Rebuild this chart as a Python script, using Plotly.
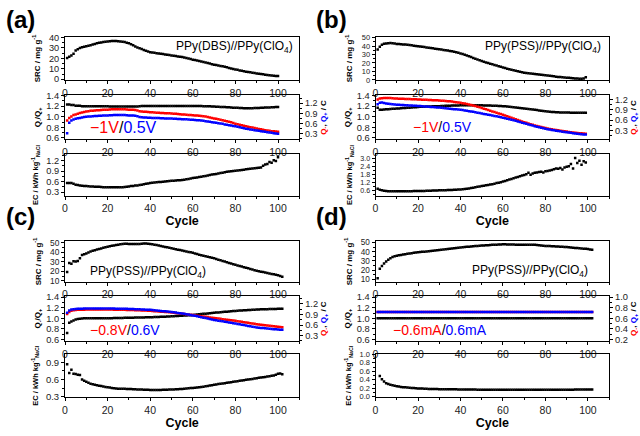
import plotly.graph_objects as go

FONT = "Liberation Sans, Arial, Helvetica, sans-serif"
W, H = 640, 436
RED = "#ff0000"
BLUE = "#0000ff"

# ================= panel (a): PPy(DBS)//PPy(ClO4), -1V/0.5V =================
cycles_a = list(range(1, 101))
src_a = [20.3, 21.5, 22.8, 24.5, 27.5, 28.8, 30.0, 30.6, 31.1, 31.6,
         32.1, 32.6, 33.2, 33.8, 34.4, 34.9, 35.3, 35.7, 36.0, 36.3,
         36.5, 36.6, 36.6, 36.6, 36.5, 36.3, 36.0, 35.6, 35.0, 34.4,
         33.5, 32.5, 31.5, 30.5, 29.7, 28.9, 28.1, 27.3, 26.6, 26.0,
         25.6, 25.3, 25.0, 24.7, 24.4, 24.1, 23.8, 23.5, 23.2, 22.8,
         22.5, 22.2, 21.9, 21.6, 21.3, 20.8, 20.3, 19.8, 19.3, 18.8,
         18.4, 18.0, 17.5, 17.1, 16.6, 16.1, 15.6, 15.0, 14.5, 14.0,
         13.6, 13.2, 12.8, 12.4, 11.9, 11.4, 10.9, 10.4, 9.9, 9.4,
         9.0, 8.5, 8.1, 7.6, 7.2, 6.9, 6.6, 6.2, 5.9, 5.6,
         5.3, 5.0, 4.7, 4.3, 4.0, 3.8, 3.6, 3.4, 3.2, 3.1]
ratio_a = [1.23, 1.23, 1.22, 1.22, 1.21, 1.21, 1.21, 1.20, 1.20, 1.20,
           1.20, 1.20, 1.20, 1.20, 1.20, 1.20, 1.20, 1.20, 1.20, 1.20,
           1.195, 1.195, 1.195, 1.195, 1.195, 1.195, 1.195, 1.195, 1.195, 1.195,
           1.195, 1.195, 1.195, 1.195, 1.20, 1.205, 1.205, 1.205, 1.205, 1.205,
           1.205, 1.205, 1.205, 1.205, 1.205, 1.205, 1.205, 1.205, 1.205, 1.205,
           1.205, 1.205, 1.205, 1.205, 1.205, 1.205, 1.205, 1.205, 1.205, 1.205,
           1.205, 1.204, 1.203, 1.202, 1.20, 1.199, 1.198, 1.196, 1.194, 1.192,
           1.19, 1.188, 1.186, 1.184, 1.182, 1.18, 1.178, 1.175, 1.172, 1.17,
           1.168, 1.166, 1.164, 1.162, 1.16, 1.16, 1.16, 1.162, 1.163, 1.165,
           1.167, 1.169, 1.171, 1.173, 1.175, 1.177, 1.179, 1.181, 1.183, 1.185]
qminus_a = [0.69, 0.76, 0.81, 0.85, 0.87, 0.89, 0.91, 0.925, 0.94, 0.955,
            0.965, 0.975, 0.98, 0.985, 0.99, 0.995, 1.0, 1.005, 1.01, 1.01,
            1.015, 1.02, 1.02, 1.02, 1.025, 1.025, 1.02, 1.02, 1.015, 1.01,
            1.01, 1.005, 1.0, 0.985, 0.96, 0.955, 0.95, 0.945, 0.94, 0.935,
            0.93, 0.925, 0.92, 0.915, 0.91, 0.91, 0.905, 0.90, 0.90, 0.895,
            0.89, 0.885, 0.88, 0.875, 0.87, 0.865, 0.86, 0.855, 0.85, 0.845,
            0.84, 0.835, 0.83, 0.825, 0.815, 0.805, 0.795, 0.78, 0.765, 0.75,
            0.74, 0.725, 0.71, 0.695, 0.68, 0.665, 0.65, 0.635, 0.615, 0.595,
            0.58, 0.565, 0.55, 0.535, 0.52, 0.505, 0.49, 0.48, 0.465, 0.45,
            0.44, 0.43, 0.415, 0.405, 0.395, 0.385, 0.375, 0.37, 0.365, 0.36]
qplus_a = [0.31, 0.62, 0.69, 0.72, 0.74, 0.755, 0.765, 0.78, 0.79, 0.80,
           0.805, 0.81, 0.815, 0.82, 0.825, 0.83, 0.83, 0.835, 0.84, 0.84,
           0.845, 0.845, 0.85, 0.85, 0.852, 0.852, 0.85, 0.85, 0.845, 0.84,
           0.84, 0.835, 0.83, 0.815, 0.79, 0.785, 0.78, 0.775, 0.77, 0.77,
           0.765, 0.765, 0.76, 0.76, 0.755, 0.755, 0.75, 0.75, 0.745, 0.745,
           0.74, 0.74, 0.735, 0.735, 0.73, 0.73, 0.725, 0.72, 0.715, 0.71,
           0.705, 0.70, 0.695, 0.69, 0.68, 0.67, 0.66, 0.65, 0.64, 0.63,
           0.62, 0.61, 0.60, 0.59, 0.575, 0.565, 0.55, 0.54, 0.53, 0.52,
           0.505, 0.49, 0.475, 0.46, 0.445, 0.435, 0.425, 0.415, 0.405, 0.395,
           0.385, 0.375, 0.365, 0.355, 0.345, 0.335, 0.325, 0.315, 0.305, 0.295]
ec_a = [0.56, 0.56, 0.56, 0.54, 0.51, 0.50, 0.49, 0.48, 0.475, 0.47,
        0.465, 0.46, 0.46, 0.455, 0.455, 0.45, 0.445, 0.44, 0.44, 0.435,
        0.435, 0.435, 0.435, 0.435, 0.435, 0.44, 0.44, 0.445, 0.45, 0.46,
        0.47, 0.475, 0.485, 0.49, 0.50, 0.51, 0.52, 0.535, 0.545, 0.56,
        0.565, 0.57, 0.58, 0.585, 0.59, 0.595, 0.60, 0.61, 0.615, 0.62,
        0.625, 0.63, 0.635, 0.64, 0.645, 0.655, 0.665, 0.675, 0.69, 0.70,
        0.71, 0.72, 0.73, 0.74, 0.75, 0.76, 0.775, 0.785, 0.80, 0.81,
        0.82, 0.83, 0.845, 0.855, 0.87, 0.88, 0.885, 0.895, 0.90, 0.91,
        0.92, 0.925, 0.935, 0.94, 0.95, 0.96, 0.97, 0.975, 0.985, 0.99,
        0.995, 1.00, 1.05, 1.09, 1.10, 1.16, 1.14, 1.21, 1.19, 1.30]

# ================= panel (b): PPy(PSS)//PPy(ClO4), -1V/0.5V =================
cycles_b = list(range(1, 100))
src_b = [35.8, 39.2, 41.5, 42.6, 43.1, 43.4, 43.5, 43.3, 42.9, 42.5,
         42.3, 42.1, 41.9, 41.7, 41.5, 41.1, 40.8, 40.4, 40.0, 39.6,
         39.3, 39.0, 38.7, 38.3, 38.0, 37.6, 37.3, 36.9, 36.5, 36.2,
         35.8, 35.4, 35.0, 34.6, 34.2, 33.7, 33.2, 32.6, 32.0, 31.3,
         30.5, 29.6, 28.7, 27.8, 26.9, 26.0, 25.1, 24.1, 23.2, 22.3,
         21.5, 20.7, 20.0, 19.2, 18.5, 17.7, 16.9, 16.2, 15.4, 14.6,
         14.0, 13.3, 12.7, 12.1, 11.5, 10.9, 10.3, 9.7, 9.1, 8.5,
         8.2, 7.9, 7.5, 7.2, 6.9, 6.6, 6.3, 6.0, 5.7, 5.4,
         5.1, 4.8, 4.5, 4.2, 3.8, 3.6, 3.4, 3.2, 2.9, 2.7,
         2.5, 2.3, 2.0, 1.8, 1.6, 1.5, 1.5, 1.6, 3.3]
ratio_b = [1.17, 1.13, 1.13, 1.135, 1.14, 1.14, 1.145, 1.15, 1.15, 1.155,
           1.158, 1.16, 1.163, 1.166, 1.17, 1.172, 1.175, 1.178, 1.18, 1.185,
           1.187, 1.19, 1.19, 1.192, 1.194, 1.195, 1.197, 1.198, 1.2, 1.2,
           1.202, 1.204, 1.206, 1.208, 1.21, 1.211, 1.212, 1.213, 1.214, 1.215,
           1.215, 1.215, 1.215, 1.215, 1.215, 1.215, 1.215, 1.215, 1.215, 1.215,
           1.214, 1.213, 1.212, 1.211, 1.21, 1.208, 1.206, 1.204, 1.202, 1.2,
           1.197, 1.194, 1.19, 1.185, 1.18, 1.175, 1.17, 1.165, 1.16, 1.155,
           1.15, 1.145, 1.14, 1.135, 1.13, 1.125, 1.12, 1.115, 1.11, 1.105,
           1.1, 1.095, 1.09, 1.088, 1.085, 1.083, 1.082, 1.081, 1.08, 1.08,
           1.078, 1.077, 1.076, 1.075, 1.075, 1.074, 1.074, 1.074, 1.074]
qminus_b = [1.195, 1.22, 1.23, 1.235, 1.24, 1.24, 1.235, 1.23, 1.225, 1.22,
            1.218, 1.215, 1.212, 1.21, 1.208, 1.205, 1.203, 1.2, 1.198, 1.195,
            1.192, 1.189, 1.186, 1.183, 1.18, 1.178, 1.175, 1.172, 1.169, 1.166,
            1.161, 1.156, 1.151, 1.146, 1.14, 1.133, 1.125, 1.117, 1.109, 1.10,
            1.088, 1.076, 1.063, 1.05, 1.037, 1.02, 1.003, 0.985, 0.968, 0.95,
            0.93, 0.91, 0.89, 0.87, 0.85, 0.831, 0.812, 0.793, 0.774, 0.755,
            0.734, 0.713, 0.692, 0.671, 0.65, 0.628, 0.606, 0.584, 0.562, 0.54,
            0.521, 0.503, 0.484, 0.466, 0.447, 0.432, 0.416, 0.401, 0.385, 0.37,
            0.359, 0.348, 0.337, 0.326, 0.315, 0.306, 0.297, 0.288, 0.279, 0.27,
            0.262, 0.254, 0.246, 0.238, 0.23, 0.225, 0.22, 0.215, 0.21]
qplus_b = [1.054, 1.10, 1.11, 1.095, 1.08, 1.073, 1.066, 1.059, 1.052, 1.045,
           1.041, 1.038, 1.034, 1.031, 1.027, 1.024, 1.02, 1.017, 1.013, 1.01,
           1.005, 1.0, 0.995, 0.99, 0.985, 0.98, 0.975, 0.97, 0.965, 0.96,
           0.954, 0.947, 0.941, 0.935, 0.929, 0.922, 0.916, 0.91, 0.903, 0.897,
           0.888, 0.878, 0.869, 0.859, 0.85, 0.838, 0.826, 0.814, 0.802, 0.79,
           0.779, 0.768, 0.757, 0.746, 0.735, 0.722, 0.709, 0.696, 0.683, 0.67,
           0.655, 0.64, 0.626, 0.611, 0.596, 0.579, 0.562, 0.544, 0.527, 0.51,
           0.493, 0.477, 0.46, 0.444, 0.427, 0.412, 0.396, 0.381, 0.365, 0.35,
           0.339, 0.328, 0.318, 0.307, 0.296, 0.287, 0.278, 0.268, 0.259, 0.25,
           0.242, 0.234, 0.226, 0.218, 0.21, 0.203, 0.197, 0.19, 0.183]
ec_b = [0.72, 0.65, 0.60, 0.57, 0.55, 0.54, 0.535, 0.53, 0.53, 0.53,
        0.53, 0.53, 0.535, 0.535, 0.54, 0.54, 0.54, 0.545, 0.545, 0.55,
        0.55, 0.555, 0.56, 0.565, 0.57, 0.575, 0.58, 0.585, 0.59, 0.60,
        0.605, 0.61, 0.615, 0.62, 0.63, 0.635, 0.64, 0.65, 0.66, 0.67,
        0.68, 0.70, 0.72, 0.745, 0.77, 0.80, 0.83, 0.86, 0.89, 0.92,
        0.95, 0.975, 1.0, 1.03, 1.06, 1.1, 1.14, 1.17, 1.21, 1.25,
        1.30, 1.35, 1.40, 1.45, 1.50, 1.55, 1.60, 1.65, 1.70, 1.74,
        1.80, 1.91, 1.77, 1.85, 1.91, 1.93, 1.96, 1.98, 1.92, 2.03,
        2.05, 2.08, 2.12, 2.17, 2.23, 2.20, 2.26, 2.15, 2.30, 2.35,
        2.40, 2.56, 2.23, 3.0, 2.64, 2.81, 2.50, 2.76, 2.68]

# ================= panel (c): PPy(PSS)//PPy(ClO4), -0.8V/0.6V =================
cycles_c = list(range(1, 103))
src_c = [19.2, 28.8, 27.8, 30.5, 30.2, 30.9, 33.6, 37.0, 38.0, 38.7,
         39.8, 40.8, 41.5, 42.2, 42.8, 43.4, 44.0, 44.6, 45.3, 45.9,
         46.3, 46.7, 47.1, 47.5, 47.9, 48.3, 48.7, 49.0, 48.8, 48.6,
         48.6, 48.6, 48.6, 48.6, 48.6, 48.9, 49.1, 49.3, 49.0, 48.6,
         48.3, 47.9, 47.5, 47.1, 46.6, 46.1, 45.6, 45.2, 44.7, 44.2,
         43.7, 43.2, 42.7, 42.3, 41.8, 41.3, 40.8, 40.3, 39.9, 39.4,
         38.8, 38.2, 37.5, 36.9, 36.3, 35.8, 35.2, 34.7, 34.1, 33.6,
         32.9, 32.2, 31.6, 30.9, 30.2, 29.5, 28.8, 28.2, 27.5, 26.8,
         26.2, 25.6, 25.0, 24.3, 23.7, 23.1, 22.5, 21.8, 21.2, 20.6,
         20.1, 19.6, 19.2, 18.7, 18.2, 17.7, 17.2, 16.8, 16.3, 15.8,
         15.1, 14.4]
ratio_c = [0.72, 0.915, 0.94, 0.96, 0.975, 0.985, 0.99, 0.995, 1.0, 1.0,
           1.0, 1.0, 1.0, 1.0, 1.0, 1.0, 1.0, 1.0, 1.0, 1.0,
           1.002, 1.003, 1.004, 1.005, 1.006, 1.007, 1.008, 1.009, 1.01, 1.01,
           1.011, 1.012, 1.013, 1.014, 1.015, 1.016, 1.017, 1.018, 1.019, 1.02,
           1.021, 1.023, 1.025, 1.027, 1.028, 1.03, 1.031, 1.033, 1.035, 1.037,
           1.039, 1.042, 1.044, 1.047, 1.05, 1.052, 1.055, 1.058, 1.06, 1.063,
           1.067, 1.071, 1.075, 1.08, 1.084, 1.088, 1.092, 1.096, 1.10, 1.105,
           1.109, 1.112, 1.116, 1.119, 1.123, 1.126, 1.13, 1.133, 1.137, 1.14,
           1.143, 1.146, 1.149, 1.151, 1.154, 1.157, 1.159, 1.162, 1.164, 1.167,
           1.168, 1.17, 1.171, 1.172, 1.173, 1.175, 1.176, 1.177, 1.178, 1.18,
           1.18, 1.18]
qminus_c = [0.913, 0.97, 1.01, 1.02, 1.03, 1.033, 1.035, 1.037, 1.039, 1.04,
            1.04, 1.04, 1.04, 1.04, 1.04, 1.04, 1.04, 1.04, 1.04, 1.04,
            1.04, 1.04, 1.039, 1.038, 1.037, 1.036, 1.035, 1.033, 1.032, 1.03,
            1.028, 1.026, 1.024, 1.022, 1.02, 1.017, 1.014, 1.011, 1.008, 1.005,
            1.0, 0.996, 0.991, 0.986, 0.982, 0.977, 0.972, 0.968, 0.963, 0.958,
            0.951, 0.943, 0.935, 0.928, 0.92, 0.913, 0.906, 0.899, 0.892, 0.885,
            0.877, 0.868, 0.86, 0.851, 0.843, 0.834, 0.826, 0.817, 0.809, 0.80,
            0.792, 0.784, 0.776, 0.768, 0.76, 0.752, 0.744, 0.736, 0.728, 0.72,
            0.71, 0.701, 0.691, 0.682, 0.672, 0.663, 0.653, 0.644, 0.634, 0.625,
            0.617, 0.61, 0.602, 0.595, 0.587, 0.58, 0.572, 0.565, 0.557, 0.55,
            0.545, 0.54]
qplus_c = [0.95, 1.013, 1.04, 1.052, 1.06, 1.063, 1.065, 1.067, 1.068, 1.07,
           1.07, 1.07, 1.07, 1.07, 1.07, 1.07, 1.07, 1.07, 1.07, 1.07,
           1.069, 1.069, 1.068, 1.067, 1.066, 1.065, 1.064, 1.063, 1.062, 1.06,
           1.058, 1.055, 1.053, 1.05, 1.048, 1.045, 1.042, 1.039, 1.036, 1.033,
           1.027, 1.021, 1.015, 1.009, 1.003, 0.996, 0.99, 0.983, 0.977, 0.97,
           0.962, 0.954, 0.946, 0.938, 0.93, 0.919, 0.908, 0.897, 0.886, 0.875,
           0.862, 0.849, 0.836, 0.823, 0.81, 0.797, 0.784, 0.771, 0.758, 0.745,
           0.735, 0.725, 0.715, 0.705, 0.694, 0.684, 0.674, 0.664, 0.653, 0.643,
           0.632, 0.62, 0.609, 0.598, 0.587, 0.575, 0.564, 0.553, 0.541, 0.53,
           0.524, 0.518, 0.512, 0.506, 0.5, 0.494, 0.488, 0.482, 0.476, 0.47,
           0.468, 0.465]
ec_c = [0.866, 0.713, 0.77, 0.70, 0.695, 0.685, 0.68, 0.60, 0.58, 0.56,
        0.543, 0.526, 0.516, 0.507, 0.498, 0.491, 0.485, 0.478, 0.471, 0.464,
        0.459, 0.454, 0.449, 0.445, 0.44, 0.439, 0.438, 0.437, 0.436, 0.435,
        0.433, 0.431, 0.429, 0.427, 0.425, 0.424, 0.423, 0.421, 0.42, 0.419,
        0.419, 0.419, 0.419, 0.419, 0.419, 0.42, 0.421, 0.422, 0.424, 0.425,
        0.428, 0.43, 0.432, 0.434, 0.436, 0.44, 0.443, 0.446, 0.45, 0.453,
        0.457, 0.462, 0.466, 0.471, 0.475, 0.482, 0.489, 0.496, 0.502, 0.509,
        0.515, 0.52, 0.526, 0.531, 0.537, 0.543, 0.549, 0.554, 0.56, 0.566,
        0.571, 0.577, 0.583, 0.588, 0.594, 0.6, 0.606, 0.611, 0.617, 0.623,
        0.629, 0.634, 0.64, 0.645, 0.651, 0.658, 0.665, 0.671, 0.685, 0.70,
        0.705, 0.69]

# ================= panel (d): PPy(PSS)//PPy(ClO4), -0.6mA/0.6mA =================
cycles_d = list(range(1, 103))
src_d = [11.4, 21.6, 24.4, 27.1, 29.5, 31.2, 32.9, 34.3, 35.0, 35.6,
         36.0, 36.5, 36.9, 37.3, 37.7, 38.1, 38.4, 38.8, 39.1, 39.4,
         39.6, 39.8, 40.0, 40.2, 40.4, 40.7, 41.0, 41.2, 41.5, 41.8,
         42.1, 42.4, 42.6, 42.9, 43.2, 43.5, 43.7, 44.0, 44.2, 44.5,
         44.7, 44.9, 45.2, 45.4, 45.6, 45.8, 46.0, 46.2, 46.4, 46.6,
         46.7, 46.9, 47.0, 47.2, 47.3, 47.4, 47.5, 47.7, 47.8, 47.9,
         47.9, 47.8, 47.8, 47.7, 47.6, 47.5, 47.5, 47.4, 47.4, 47.3,
         47.3, 47.3, 47.3, 47.3, 47.3, 47.1, 46.9, 46.7, 46.4, 46.2,
         46.1, 46.0, 45.9, 45.7, 45.6, 45.5, 45.3, 45.2, 45.0, 44.9,
         44.7, 44.5, 44.3, 44.0, 43.8, 43.6, 43.4, 43.2, 43.0, 42.8,
         42.4, 42.1]
ratio_d = [1.0, 1.0, 1.0, 1.0, 1.0, 1.0, 1.0, 1.0, 1.0, 1.0,
           1.0, 1.0, 1.0, 1.0, 1.0, 1.0, 1.0, 1.0, 1.0, 1.0,
           1.0, 1.0, 1.0, 1.0, 1.0, 1.0, 1.0, 1.0, 1.0, 1.0,
           1.0, 1.0, 1.0, 1.0, 1.0, 1.0, 1.0, 1.0, 1.0, 1.0,
           1.0, 1.0, 1.0, 1.0, 1.0, 1.0, 1.0, 1.0, 1.0, 1.0,
           1.0, 1.0, 1.0, 1.0, 1.0, 1.0, 1.0, 1.0, 1.0, 1.0,
           1.0, 1.0, 1.0, 1.0, 1.0, 1.0, 1.0, 1.0, 1.0, 1.0,
           1.0, 1.0, 1.0, 1.0, 1.0, 1.0, 1.0, 1.0, 1.0, 1.0,
           1.0, 1.0, 1.0, 1.0, 1.0, 1.0, 1.0, 1.0, 1.0, 1.0,
           1.0, 1.0, 1.0, 1.0, 1.0, 1.0, 1.0, 1.0, 1.0, 1.0,
           1.0, 1.0]
qminus_d = [0.72, 0.72, 0.72, 0.72, 0.72, 0.72, 0.72, 0.72, 0.72, 0.72,
            0.72, 0.72, 0.72, 0.72, 0.72, 0.72, 0.72, 0.72, 0.72, 0.72,
            0.72, 0.72, 0.72, 0.72, 0.72, 0.72, 0.72, 0.72, 0.72, 0.72,
            0.72, 0.72, 0.72, 0.72, 0.72, 0.72, 0.72, 0.72, 0.72, 0.72,
            0.72, 0.72, 0.72, 0.72, 0.72, 0.72, 0.72, 0.72, 0.72, 0.72,
            0.72, 0.72, 0.72, 0.72, 0.72, 0.72, 0.72, 0.72, 0.72, 0.72,
            0.72, 0.72, 0.72, 0.72, 0.72, 0.72, 0.72, 0.72, 0.72, 0.72,
            0.72, 0.72, 0.72, 0.72, 0.72, 0.72, 0.72, 0.72, 0.72, 0.72,
            0.72, 0.72, 0.72, 0.72, 0.72, 0.72, 0.72, 0.72, 0.72, 0.72,
            0.72, 0.72, 0.72, 0.72, 0.72, 0.72, 0.72, 0.72, 0.72, 0.72,
            0.72, 0.72]
qplus_d = [0.72, 0.72, 0.72, 0.72, 0.72, 0.72, 0.72, 0.72, 0.72, 0.72,
           0.72, 0.72, 0.72, 0.72, 0.72, 0.72, 0.72, 0.72, 0.72, 0.72,
           0.72, 0.72, 0.72, 0.72, 0.72, 0.72, 0.72, 0.72, 0.72, 0.72,
           0.72, 0.72, 0.72, 0.72, 0.72, 0.72, 0.72, 0.72, 0.72, 0.72,
           0.72, 0.72, 0.72, 0.72, 0.72, 0.72, 0.72, 0.72, 0.72, 0.72,
           0.72, 0.72, 0.72, 0.72, 0.72, 0.72, 0.72, 0.72, 0.72, 0.72,
           0.72, 0.72, 0.72, 0.72, 0.72, 0.72, 0.72, 0.72, 0.72, 0.72,
           0.72, 0.72, 0.72, 0.72, 0.72, 0.72, 0.72, 0.72, 0.72, 0.72,
           0.72, 0.72, 0.72, 0.72, 0.72, 0.72, 0.72, 0.72, 0.72, 0.72,
           0.72, 0.72, 0.72, 0.72, 0.72, 0.72, 0.72, 0.72, 0.72, 0.72,
           0.72, 0.72]
ec_cycles_d = list(range(2, 103))
ec_d = [0.49, 0.41, 0.36, 0.32, 0.30, 0.285, 0.27, 0.258, 0.248,
        0.24, 0.233, 0.227, 0.222, 0.218, 0.213, 0.209, 0.205, 0.2, 0.196,
        0.194, 0.192, 0.19, 0.188, 0.186, 0.185, 0.184, 0.183, 0.182, 0.18,
        0.179, 0.179, 0.178, 0.177, 0.177, 0.176, 0.175, 0.175, 0.174, 0.173,
        0.172, 0.172, 0.171, 0.171, 0.17, 0.17, 0.169, 0.168, 0.167, 0.166,
        0.166, 0.166, 0.165, 0.165, 0.165, 0.165, 0.165, 0.165, 0.165, 0.165,
        0.165, 0.165, 0.165, 0.165, 0.165, 0.165, 0.165, 0.165, 0.165, 0.165,
        0.165, 0.165, 0.165, 0.165, 0.165, 0.165, 0.165, 0.165, 0.165, 0.165,
        0.165, 0.165, 0.165, 0.165, 0.165, 0.165, 0.165, 0.165, 0.165, 0.165,
        0.166, 0.167, 0.168, 0.169, 0.17, 0.171, 0.171, 0.172, 0.172, 0.173,
        0.173, 0.173]

x_ticks = [0, 20, 40, 60, 80, 100]
q_ticks = [0.6, 0.8, 1.0, 1.2, 1.4]
panel_letters = ["(a)", "(b)", "(c)", "(d)"]
sample_names = ["PPy(DBS)//PPy(ClO<sub>4</sub>)", "PPy(PSS)//PPy(ClO<sub>4</sub>)",
                "PPy(PSS)//PPy(ClO<sub>4</sub>)", "PPy(PSS)//PPy(ClO<sub>4</sub>)"]
cond_neg = ["\u22121V", "\u22121V", "\u22120.8V", "\u22120.6mA"]
cond_pos = ["0.5V", "0.5V", "0.6V", "0.6mA"]

# ================= layout geometry (pixels) =================
def xdom(a, b):
    return [a / W, b / W]

def ydom(top, bot):
    return [1 - bot / H, 1 - top / H]

TOP_ROWS = [(32.5, 77), (92.5, 137.5), (153, 195)]
BOT_ROWS = [(241.7, 283.3), (298, 344), (357.5, 401.5)]
LEFT_X = (62.3, 297.7)
RIGHT_X = (374.3, 609)

panels = [
    dict(cyc=cycles_a, src=src_a, ratio=ratio_a, qm=qminus_a, qp=qplus_a, ecx=cycles_a, ec=ec_a,
         xpx=LEFT_X, rows=TOP_ROWS, src_rng=[-0.94, 40.75], src_tv=[0, 10, 20, 30, 40],
         q_rng=[0.572, 1.404], qr_rng=[0.133, 1.431], qr_tv=[0.3, 0.6, 0.9, 1.2], qr_minor=0.15,
         ec_rng=[0.2, 1.376], ec_tv=[0.3, 0.6, 0.9, 1.2], ec_minor=0.15),
    dict(cyc=cycles_b, src=src_b, ratio=ratio_b, qm=qminus_b, qp=qplus_b, ecx=cycles_b, ec=ec_b,
         xpx=RIGHT_X, rows=TOP_ROWS, src_rng=[-0.35, 50.92], src_tv=[0, 10, 20, 30, 40, 50],
         q_rng=[0.572, 1.404], qr_rng=[0.047, 1.312], qr_tv=[0.3, 0.6, 0.9, 1.2], qr_minor=0.15,
         ec_rng=[0.215, 3.27], ec_tv=[0.6, 1.2, 1.8, 2.4, 3.0], ec_minor=0.3),
    dict(cyc=cycles_c, src=src_c, ratio=ratio_c, qm=qminus_c, qp=qplus_c, ecx=cycles_c, ec=ec_c,
         xpx=LEFT_X, rows=BOT_ROWS, src_rng=[8.97, 51.64], src_tv=[10, 20, 30, 40, 50],
         q_rng=[0.567, 1.42], qr_rng=[0.141, 1.423], qr_tv=[0.3, 0.6, 0.9, 1.2], qr_minor=0.15,
         ec_rng=[0.29, 1.04], ec_tv=[0.3, 0.6, 0.9], ec_minor=0.15),
    dict(cyc=cycles_d, src=src_d, ratio=ratio_d, qm=qminus_d, qp=qplus_d, ecx=ec_cycles_d, ec=ec_d,
         xpx=RIGHT_X, rows=BOT_ROWS, src_rng=[7.5, 51.3], src_tv=[10, 20, 30, 40, 50],
         q_rng=[0.567, 1.42], qr_rng=[0.169, 1.018], qr_tv=[0.2, 0.4, 0.6, 0.8, 1.0], qr_minor=0.1,
         ec_rng=[-0.012, 1.0], ec_tv=[0.0, 0.2, 0.4, 0.6, 0.8, 1.0], ec_minor=0.1),
]

for P in panels:
    for key in ("src", "ratio", "qm", "qp"):
        if len(P[key]) != len(P["cyc"]):
            raise ValueError("length mismatch " + key)
    if len(P["ec"]) != len(P["ecx"]):
        raise ValueError("length mismatch ec")

XTICKFONT = dict(family=FONT, size=10.5, color="#222222")
TITLEFONT = dict(family=FONT, size=8, color="black", weight="bold")

def tickfont_for(rng, row, tv):
    """tick-label size that keeps neighbouring labels apart for the given axis geometry"""
    px_per_unit = (row[1] - row[0]) / (rng[1] - rng[0])
    gap = (tv[1] - tv[0]) * px_per_unit
    return dict(family=FONT, size=round(min(9.5, gap / 1.16), 2), color="#222222")

def base_axis():
    return dict(showline=True, linecolor="black", linewidth=1, mirror=True,
                ticks="outside", ticklen=3, tickwidth=1, tickcolor="black",
                showgrid=False, zeroline=False)

def refs(k):
    return ("x" if k == 1 else f"x{k}", "y" if k == 1 else f"y{k}")

def mk(color):
    return dict(symbol="square", size=2.5, color=color, line=dict(width=0))

def minor(d):
    return dict(ticks="outside", ticklen=2, tickcolor="black", dtick=d, tick0=0)

fig = go.Figure()
layout = {}

for p, P in enumerate(panels):
    base = p * 3
    for r in range(3):
        k = base + r + 1
        xr, yr = refs(k)
        row = P["rows"][r]
        xa = dict(base_axis())
        xa.update(domain=xdom(*P["xpx"]), anchor=yr, range=[0, 110], tickvals=x_ticks,
                  tickfont=XTICKFONT, minor=minor(10))
        if r == 2:
            xa["title"] = dict(text="Cycle", font=dict(family=FONT, size=12.5, color="black", weight="bold"),
                               standoff=1)
        ya = dict(base_axis())
        ya.update(domain=ydom(*row), anchor=xr)
        if r == 0:
            ya.update(range=P["src_rng"], tickvals=P["src_tv"], minor=minor(5),
                      tickfont=tickfont_for(P["src_rng"], row, P["src_tv"]),
                      title=dict(text="SRC / mg g<sup>-1</sup>", font=TITLEFONT, standoff=7))
        elif r == 1:
            ya.update(range=P["q_rng"], tickvals=q_ticks, tickformat=".1f", minor=minor(0.1),
                      tickfont=tickfont_for(P["q_rng"], row, q_ticks),
                      title=dict(text="Q<sub>-</sub>/Q<sub>+</sub>", font=TITLEFONT, standoff=4))
        else:
            ya.update(range=P["ec_rng"], tickvals=P["ec_tv"], tickformat=".1f", minor=minor(P["ec_minor"]),
                      tickfont=tickfont_for(P["ec_rng"], row, P["ec_tv"]),
                      title=dict(text="EC / kWh kg<sup>-1</sup><sub>NaCl</sub>",
                                 font=dict(family=FONT, size=7.5, color="black", weight="bold"), standoff=6))
        layout["xaxis" if k == 1 else f"xaxis{k}"] = xa
        layout["yaxis" if k == 1 else f"yaxis{k}"] = ya

    # right axis for Q-, Q+
    kq = base + 2
    kr = 13 + p
    xq, yq = refs(kq)
    yra = dict(base_axis())
    yra.update(mirror=False, overlaying=yq, anchor=xq, side="right", range=P["qr_rng"],
               tickvals=P["qr_tv"], tickformat=".1f", minor=minor(P["qr_minor"]),
               tickfont=tickfont_for(P["qr_rng"], P["rows"][1], P["qr_tv"]),
               title=dict(text=f'<span style="color:{RED}">Q<sub>-</sub></span>, '
                               f'<span style="color:{BLUE}">Q<sub>+</sub></span> / C',
                          font=TITLEFONT, standoff=3))
    layout[f"yaxis{kr}"] = yra

    # traces
    x1, y1 = refs(base + 1)
    fig.add_trace(go.Scatter(x=P["cyc"], y=P["src"], mode="markers", marker=mk("black"),
                             xaxis=x1, yaxis=y1, showlegend=False))
    fig.add_trace(go.Scatter(x=P["cyc"], y=P["ratio"], mode="markers", marker=mk("black"),
                             xaxis=xq, yaxis=yq, showlegend=False))
    fig.add_trace(go.Scatter(x=P["cyc"], y=P["qm"], mode="markers", marker=mk(RED),
                             xaxis=xq, yaxis=f"y{kr}", showlegend=False))
    fig.add_trace(go.Scatter(x=P["cyc"], y=P["qp"], mode="markers", marker=mk(BLUE),
                             xaxis=xq, yaxis=f"y{kr}", showlegend=False))
    x3, y3 = refs(base + 3)
    fig.add_trace(go.Scatter(x=P["ecx"], y=P["ec"], mode="markers", marker=mk("black"),
                             xaxis=x3, yaxis=y3, showlegend=False))

# ================= annotations =================
ann = []
letter_pos = [(1, 15), (312, 15), (1, 216), (312, 216)]
for (px, py), t in zip(letter_pos, panel_letters):
    ann.append(dict(text=t, x=px / W, y=1 - py / H, xref="paper", yref="paper",
                    xanchor="left", yanchor="middle", showarrow=False,
                    font=dict(family=FONT, size=24, color="black", weight="bold")))

name_pos = [(293, 43, "right"), (603, 43, "right"), (85, 273, "left"), (590, 272, "right")]
for (px, py, anc), t in zip(name_pos, sample_names):
    ann.append(dict(text=t, x=px / W, y=1 - py / H, xref="paper", yref="paper",
                    xanchor=anc, yanchor="middle", showarrow=False,
                    font=dict(family=FONT, size=12, color="black")))

cond_pos_px = [(85, 125, 16), (410, 125, 14), (85, 333, 14), (390, 333, 14)]
for (px, py, fs), n, pz in zip(cond_pos_px, cond_neg, cond_pos):
    ann.append(dict(text=f'<span style="color:{RED}">{n}</span>/<span style="color:{BLUE}">{pz}</span>',
                    x=px / W, y=1 - py / H, xref="paper", yref="paper",
                    xanchor="left", yanchor="middle", showarrow=False,
                    font=dict(family=FONT, size=fs, color="black")))

fig.update_layout(**layout)
fig.update_layout(width=W, height=H, margin=dict(l=0, r=0, t=0, b=0),
                  paper_bgcolor="white", plot_bgcolor="white",
                  font=dict(family=FONT, color="black"),
                  showlegend=False, annotations=ann)

fig.write_html("out.html", config={"displayModeBar": False},
               post_script="document.body.style.margin='0';document.body.style.overflow='hidden';")
